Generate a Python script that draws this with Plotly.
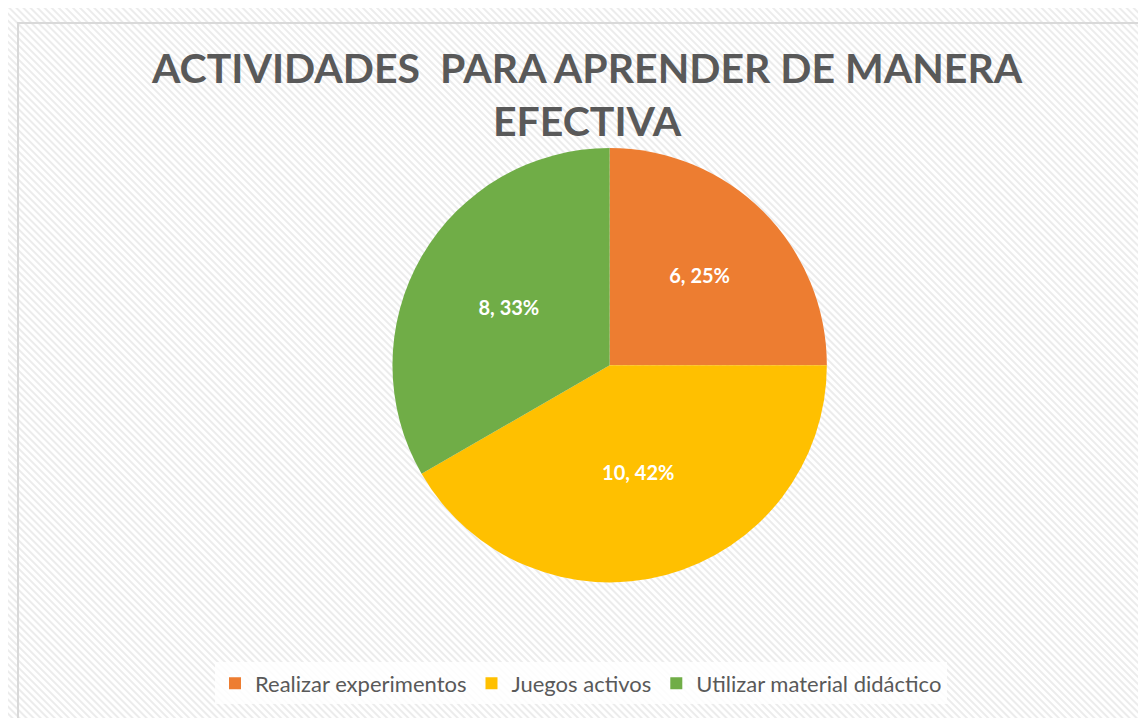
import base64
import plotly.graph_objects as go

categories = ["Realizar experimentos", "Juegos activos", "Utilizar material didáctico"]
values = [6, 10, 8]
colors = ["#ED7D31", "#FFC000", "#70AD47"]
title_text = "ACTIVIDADES  PARA APRENDER DE MANERA<br>EFECTIVA"

W, H = 1146, 718

# diagonal hatch background as an SVG pattern
svg = (
    f'<svg xmlns="http://www.w3.org/2000/svg" width="{W}" height="{H}">'
    '<defs><pattern id="p" width="5" height="5" patternUnits="userSpaceOnUse" '
    'patternTransform="rotate(-45)">'
    '<rect width="5" height="5" fill="#ffffff"/>'
    '<rect width="2" height="5" fill="#ececec"/>'
    '</pattern></defs>'
    f'<rect x="0" y="0" width="{W}" height="{H}" fill="url(#p)"/>'
    '</svg>'
)
bg_uri = "data:image/svg+xml;base64," + base64.b64encode(svg.encode()).decode()

fig = go.Figure(
    go.Pie(
        labels=categories,
        values=values,
        marker=dict(colors=colors, line=dict(width=0)),
        sort=False,
        direction="clockwise",
        rotation=0,
        texttemplate="%{value}, %{percent:.0%}",
        textposition="inside",
        insidetextorientation="horizontal",
        textfont=dict(family="Lato", size=20, color="white", weight="bold"),
        hole=0,
        domain=dict(x=[0.32, 0.73], y=[0.2, 0.805]),
        showlegend=True,
    )
)

fig.update_layout(
    width=W,
    height=H,
    margin=dict(l=0, r=0, t=0, b=0),
    paper_bgcolor="white",
    plot_bgcolor="white",
    annotations=[
        dict(
            text=title_text,
            xref="paper",
            yref="paper",
            x=0.505,
            xanchor="center",
            y=1 - 33 / H,
            yanchor="top",
            showarrow=False,
            align="center",
            font=dict(family="Lato", size=41, color="#595959", weight="bold"),
        )
    ],
    legend=dict(
        orientation="h",
        x=0.5,
        xanchor="center",
        y=0.03,
        yanchor="bottom",
        bgcolor="rgba(255,255,255,0.85)",
        font=dict(family="Lato", size=22, color="#595959"),
        traceorder="normal",
    ),
    images=[
        dict(
            source=bg_uri,
            xref="paper",
            yref="paper",
            x=0,
            y=1,
            sizex=1,
            sizey=1,
            xanchor="left",
            yanchor="top",
            sizing="stretch",
            layer="below",
        )
    ],
    shapes=[
        dict(
            type="rect",
            xref="paper",
            yref="paper",
            x0=10 / W,
            x1=1.01,
            y0=-0.01,
            y1=1 - 15 / H,
            line=dict(color="#d9d9d9", width=2),
            fillcolor="rgba(0,0,0,0)",
            layer="below",
        )
    ],
)

fig.write_html("out.html")
